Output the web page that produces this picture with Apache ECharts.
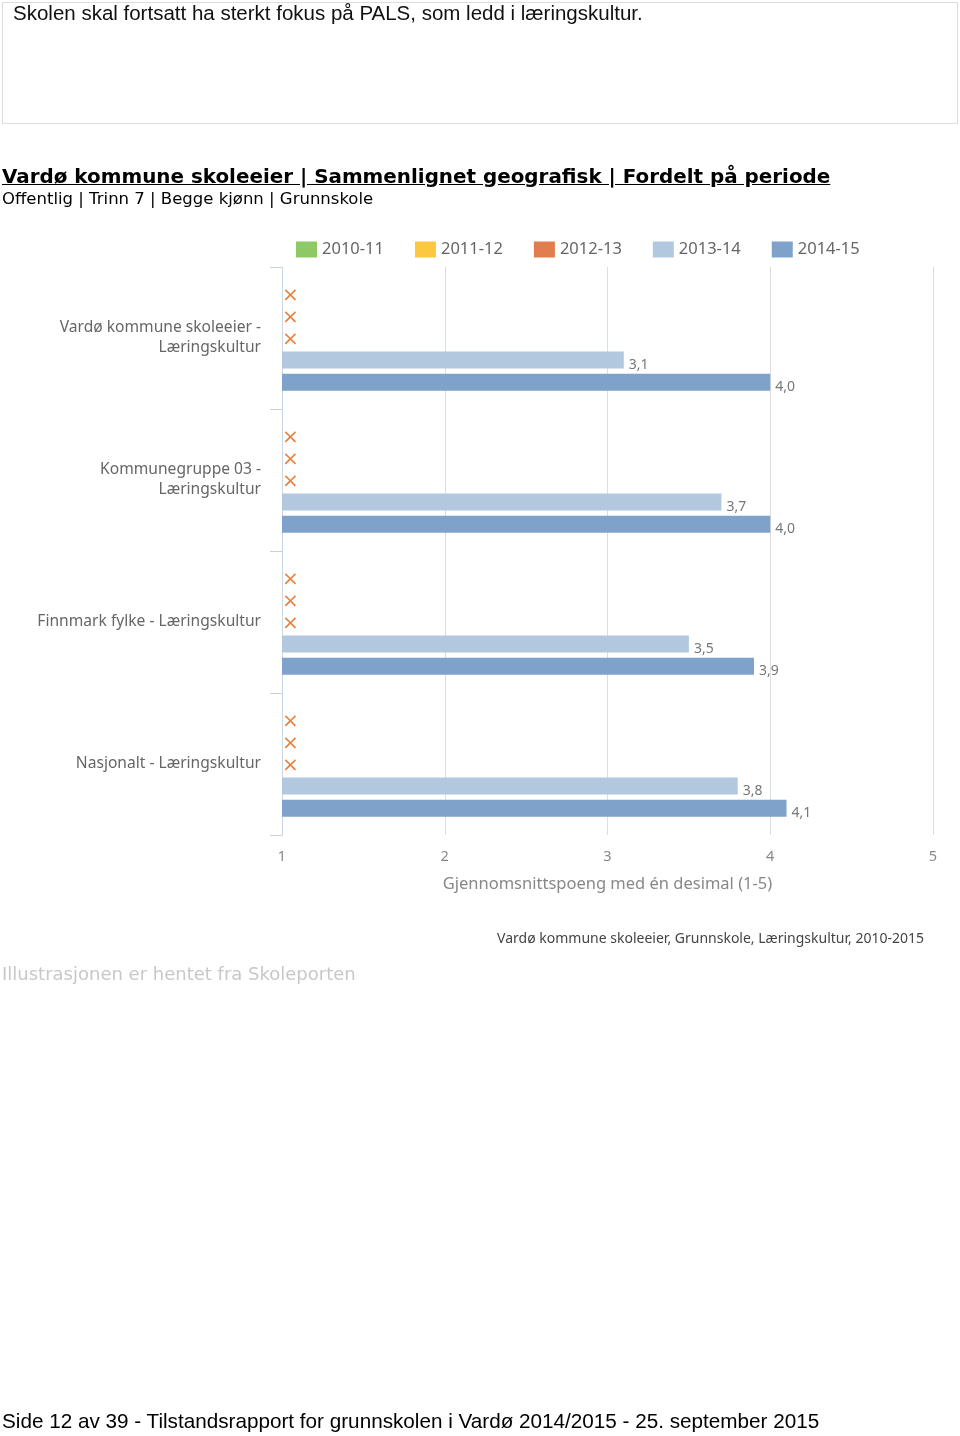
<!DOCTYPE html>
<html>
<head>
<meta charset="utf-8">
<script src="https://cdn.jsdelivr.net/npm/echarts@6/dist/echarts.min.js"></script>
<style>
  html, body { margin: 0; padding: 0; background: #fff; }
  #page { position: relative; width: 960px; height: 1436px; overflow: hidden; }
  #chart { position: absolute; left: 0; top: 0; width: 960px; height: 1436px; }
  .txt { position: absolute; white-space: nowrap; }
  #box { position: absolute; left: 2px; top: 2px; width: 954px; height: 120px; border: 1px solid #dcdcdc; }
  #boxText { left: 13px; top: 1px; line-height: 26px; font: 20.5px "Liberation Sans", Arial, sans-serif; color: #111; }
  #title { left: 2px; top: 165px; line-height: 26px; font: bold 19.9px "DejaVu Sans", Verdana, sans-serif; color: #000; text-decoration: underline; }
  #subtitle { left: 2px; top: 189px; line-height: 22px; font: 16.5px "DejaVu Sans", Verdana, sans-serif; color: #000; }
  #credit { left: 2px; top: 963px; line-height: 24px; font: 18px "DejaVu Sans", Verdana, sans-serif; color: #c8c8c8; }
  #footer { left: 2px; top: 1409px; line-height: 26px; font: 20.7px "Liberation Sans", Arial, sans-serif; color: #000; }
</style>
</head>
<body>
<div id="page">
  <div id="chart"></div>
  <div id="box"></div>
  <div class="txt" id="boxText">Skolen skal fortsatt ha sterkt fokus på PALS, som ledd i læringskultur.</div>
  <div class="txt" id="title">Vardø kommune skoleeier | Sammenlignet geografisk | Fordelt på periode</div>
  <div class="txt" id="subtitle">Offentlig | Trinn 7 | Begge kjønn | Grunnskole</div>
  <div class="txt" id="credit">Illustrasjonen er hentet fra Skoleporten</div>
  <div class="txt" id="footer">Side 12 av 39 - Tilstandsrapport for grunnskolen i Vardø 2014/2015 - 25. september 2015</div>
</div>
<script>
var categories = [
  'Vardø kommune skoleeier -\nLæringskultur',
  'Kommunegruppe 03 -\nLæringskultur',
  'Finnmark fylke - Læringskultur',
  'Nasjonalt - Læringskultur'
];
var periods = ['2010-11', '2011-12', '2012-13', '2013-14', '2014-15'];
var colors = ['#8dc965', '#fbc840', '#e27d4e', '#b1c8de', '#7ea2c9'];

// null = no data for that period (drawn as an orange cross)
var v2010 = [null, null, null, null];
var v2011 = [null, null, null, null];
var v2012 = [null, null, null, null];
var v2013 = [3.1, 3.7, 3.5, 3.8];
var v2014 = [4.0, 4.0, 3.9, 4.1];
var values = [v2010, v2011, v2012, v2013, v2014];

var xTicks = [1, 2, 3, 4, 5];
var X_MIN = xTicks[0];
var X_MAX = xTicks[xTicks.length - 1];

var font = '"Noto Sans", sans-serif';

var series = periods.map(function (p, i) {
  return {
    name: p,
    type: 'bar',
    barWidth: 17,
    barGap: '30%',
    itemStyle: { color: colors[i] },
    label: {
      show: true,
      position: 'right',
      distance: 5,
      offset: [0, 5],
      color: '#777',
      fontSize: 14,
      fontFamily: font,
      formatter: function (d) { return d.value.toFixed(1).replace('.', ','); }
    },
    data: values[i].map(function (v) {
      if (v === null) {
        return {
          value: X_MIN,
          label: {
            formatter: '×', offset: [0, 2], distance: 0,
            color: '#e8823f', fontSize: 20, fontFamily: '"DejaVu Sans", sans-serif'
          }
        };
      }
      return v;
    })
  };
});

var chart = echarts.init(document.getElementById('chart'), null, { renderer: 'canvas' });
chart.setOption({
  animation: false,
  textStyle: { fontFamily: font },
  title: {
    text: 'Vardø kommune skoleeier, Grunnskole, Læringskultur, 2010-2015',
    right: 36,
    top: 932,
    padding: 0,
    textStyle: { fontSize: 14, fontWeight: 'normal', color: '#444', fontFamily: font }
  },
  legend: {
    left: 296,
    top: 241,
    padding: 0,
    icon: 'rect',
    itemWidth: 21,
    itemHeight: 16,
    itemGap: 31,
    textStyle: { fontSize: 16.5, color: '#666', fontFamily: font },
    data: periods
  },
  grid: { left: 282, right: 27, top: 267, bottom: 601, containLabel: false },
  xAxis: {
    type: 'value',
    min: X_MIN,
    max: X_MAX,
    interval: 1,
    name: 'Gjennomsnittspoeng med én desimal (1-5)',
    nameLocation: 'middle',
    nameGap: 41,
    nameTextStyle: { fontSize: 16.5, color: '#888', fontFamily: font },
    axisLine: { show: false },
    axisTick: { show: false },
    axisLabel: { color: '#888', fontSize: 14.5, margin: 14, fontFamily: font },
    splitLine: { lineStyle: { color: '#dedede', width: 1 } }
  },
  yAxis: {
    type: 'category',
    inverse: true,
    data: categories,
    axisLine: { show: true, lineStyle: { color: '#c9d5e2', width: 1 } },
    axisTick: { show: true, length: 12, lineStyle: { color: '#cfcfcf' } },
    axisLabel: {
      color: '#666', fontSize: 15.6, lineHeight: 20, margin: 21, align: 'right',
      padding: [0, 0, 6, 0], fontFamily: font
    }
  },
  series: series
});
</script>
</body>
</html>
